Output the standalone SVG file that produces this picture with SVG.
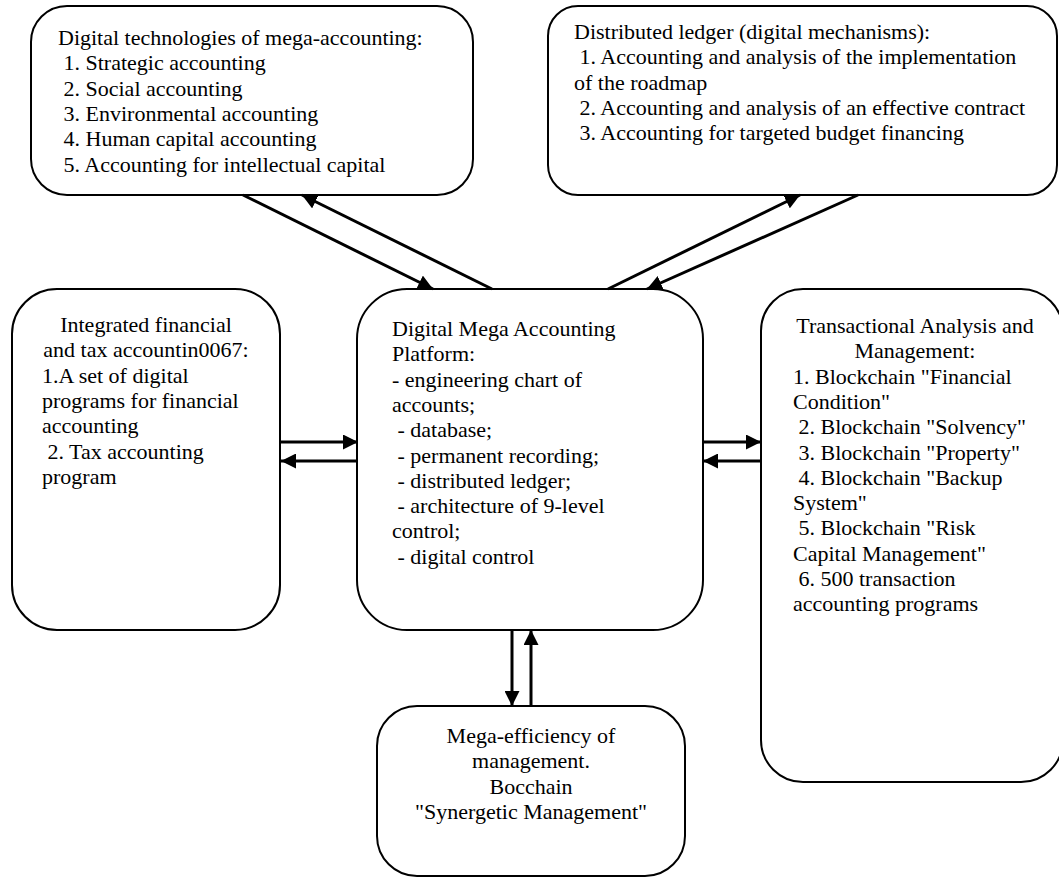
<svg xmlns="http://www.w3.org/2000/svg" width="1059" height="877" viewBox="0 0 1059 877">
<defs>
<style>
.box{fill:#fff;stroke:#000;stroke-width:2}
text{font-family:"Liberation Serif","Times New Roman",serif;font-size:22px;fill:#000}
.c{text-anchor:middle}
.ln{stroke:#000;stroke-width:3;fill:none}
</style>
<marker id="ah" viewBox="0 0 15 15" refX="15" refY="7.5" markerWidth="15" markerHeight="15" markerUnits="userSpaceOnUse" orient="auto">
<path d="M0,0 L15,7.5 L0,15 Z" fill="#000"/>
</marker>
</defs>
<rect width="1059" height="877" fill="#fff"/>

<g id="node-tech">
<rect class="box" x="31" y="6" width="442" height="189" rx="36"/>
<text x="58" y="45">Digital technologies of mega-accounting:</text>
<text x="63.5" y="70.3">1. Strategic accounting</text>
<text x="63.5" y="95.6">2. Social accounting</text>
<text x="63.5" y="120.9">3. Environmental accounting</text>
<text x="63.5" y="146.2">4. Human capital accounting</text>
<text x="63.5" y="171.5">5. Accounting for intellectual capital</text>
</g>

<g id="node-ledger">
<rect class="box" x="548" y="6" width="509" height="189" rx="30"/>
<text x="574" y="39">Distributed ledger (digital mechanisms):</text>
<text x="579.5" y="64.3">1. Accounting and analysis of the implementation</text>
<text x="574" y="89.6">of the roadmap</text>
<text x="579.5" y="114.9">2. Accounting and analysis of an effective contract</text>
<text x="579.5" y="140.2">3. Accounting for targeted budget financing</text>
</g>

<g id="node-integrated">
<rect class="box" x="12" y="289" width="268" height="341" rx="45"/>
<text class="c" x="146" y="332">Integrated financial</text>
<text class="c" x="146" y="357.3">and tax accountin0067:</text>
<text x="42" y="382.6">1.A set of digital</text>
<text x="42" y="407.9">programs for financial</text>
<text x="42" y="433.2">accounting</text>
<text x="47.5" y="458.5">2. Tax accounting</text>
<text x="42" y="483.8">program</text>
</g>

<g id="node-platform">
<rect class="box" x="357" y="289" width="346" height="341" rx="50"/>
<text x="392" y="336">Digital Mega Accounting</text>
<text x="392" y="361.3">Platform:</text>
<text x="392" y="386.6">- engineering chart of</text>
<text x="392" y="411.9">accounts;</text>
<text x="397.5" y="437.2">- database;</text>
<text x="397.5" y="462.5">- permanent recording;</text>
<text x="397.5" y="487.8">- distributed ledger;</text>
<text x="397.5" y="513.1">- architecture of 9-level</text>
<text x="392" y="538.4">control;</text>
<text x="397.5" y="563.7">- digital control</text>
</g>

<g id="node-transactional">
<rect class="box" x="761" y="289" width="302" height="493" rx="42"/>
<text class="c" x="915" y="333">Transactional Analysis and</text>
<text class="c" x="915" y="358.3">Management:</text>
<text x="793" y="383.6">1. Blockchain "Financial</text>
<text x="793" y="408.9">Condition"</text>
<text x="798.5" y="434.2">2. Blockchain "Solvency"</text>
<text x="798.5" y="459.5">3. Blockchain "Property"</text>
<text x="798.5" y="484.8">4. Blockchain "Backup</text>
<text x="793" y="510.1">System"</text>
<text x="798.5" y="535.4">5. Blockchain "Risk</text>
<text x="793" y="560.7">Capital Management"</text>
<text x="798.5" y="586">6. 500 transaction</text>
<text x="793" y="611.3">accounting programs</text>
</g>

<g id="node-efficiency">
<rect class="box" x="377" y="706" width="308" height="170" rx="40"/>
<text class="c" x="531" y="743">Mega-efficiency of</text>
<text class="c" x="531" y="768.3">management.</text>
<text class="c" x="531" y="793.6">Bocchain</text>
<text class="c" x="531" y="818.9">"Synergetic Management"</text>
</g>

<g id="connectors">
<line class="ln" x1="243" y1="195" x2="433" y2="289" marker-end="url(#ah)"/>
<line class="ln" x1="492" y1="289" x2="302" y2="195" marker-end="url(#ah)"/>
<line class="ln" x1="608" y1="289" x2="800" y2="195" marker-end="url(#ah)"/>
<line class="ln" x1="858" y1="195" x2="647" y2="289" marker-end="url(#ah)"/>
<line class="ln" x1="281" y1="442" x2="358" y2="442" marker-end="url(#ah)"/>
<line class="ln" x1="358" y1="461" x2="281" y2="461" marker-end="url(#ah)"/>
<line class="ln" x1="703" y1="442" x2="761" y2="442" marker-end="url(#ah)"/>
<line class="ln" x1="761" y1="461" x2="703" y2="461" marker-end="url(#ah)"/>
<line class="ln" x1="512" y1="630" x2="512" y2="706" marker-end="url(#ah)"/>
<line class="ln" x1="531" y1="706" x2="531" y2="630" marker-end="url(#ah)"/>
</g>
</svg>
